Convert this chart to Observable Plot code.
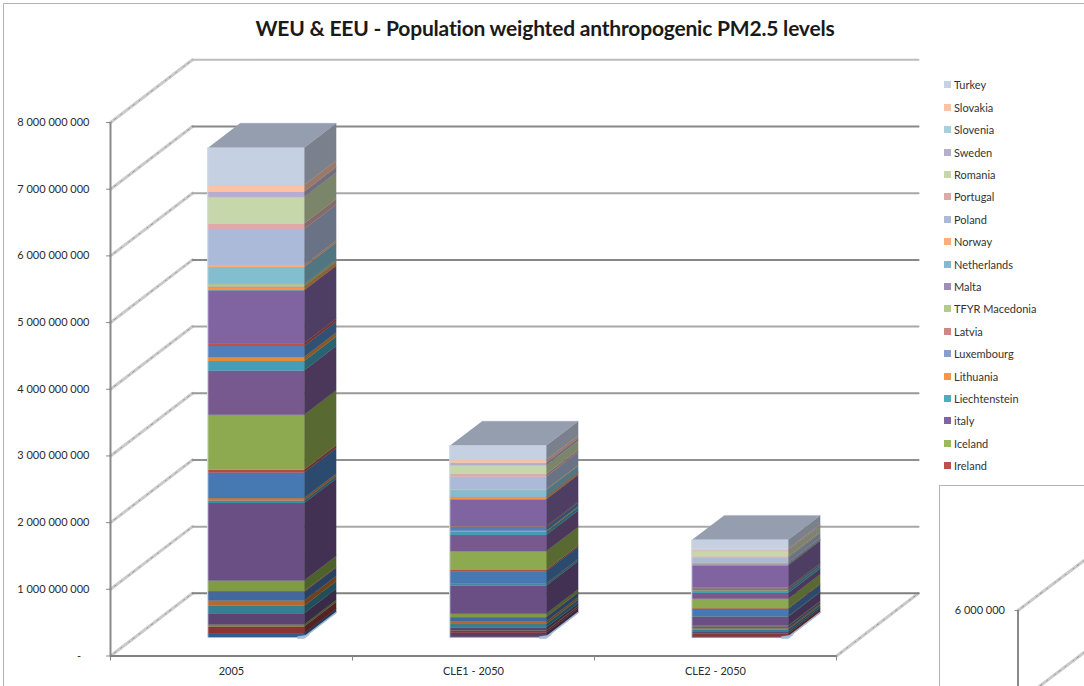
<!DOCTYPE html>
<html><head><meta charset="utf-8">
<script src="https://cdn.jsdelivr.net/npm/d3@7"></script>
<script src="https://cdn.jsdelivr.net/npm/@observablehq/plot@0.6"></script>
<style>
html,body{margin:0;padding:0;background:#fff;overflow:hidden}
#page{position:relative;width:1084px;height:686px;overflow:hidden;font-family:Lato,sans-serif;color:#2b2b2b}
#frame{position:absolute;left:3px;top:3px;right:0;bottom:0;border-left:1.5px solid #b4b4b4;border-top:1.5px solid #b4b4b4}
#title{position:absolute;left:0;top:14px;width:1090px;text-align:center;font-weight:700;font-size:21px;line-height:28px;color:#1a1a1a;letter-spacing:-.2px}
.lg{position:absolute;left:944px;font-size:11px;line-height:14px;white-space:nowrap;color:#333}
.lg i{position:absolute;left:0;top:2px;width:7px;height:7px}
.lg span{position:absolute;left:10px;top:-1px}
#inset{position:absolute;left:939px;top:485px;width:145px;height:201px;background:#fff;border-left:1.5px solid #b4b4b4;border-top:1.5px solid #b4b4b4;box-sizing:border-box;overflow:hidden}
</style></head><body><div id="page"><div id="frame"></div><div id="title"></div></div>
<script>
const chartTitle = "WEU & EEU - Population weighted anthropogenic PM2.5 levels";
const categories = ["2005", "CLE1 - 2050", "CLE2 - 2050"];
const yTicks = [0, 1e9, 2e9, 3e9, 4e9, 5e9, 6e9, 7e9, 8e9];
const gridColors = ["#808080","#a8a8a8","#909090","#989898","#a8a8a8","#888888","#a8a8a8","#888888","#bcbcbc"];

// legend, top to bottom, as far as it is visible
const legendNames = ["Turkey","Slovakia","Slovenia","Sweden","Romania","Portugal","Poland","Norway","Netherlands","Malta","TFYR Macedonia","Latvia","Luxembourg","Lithuania","Liechtenstein","italy","Iceland","Ireland"];
const legendColors = ["#c6d1e4","#fcc2a5","#a7d0de","#b7aecb","#c6d7ab","#dcaaa9","#abbad8","#fbae7f","#80bccd","#a08eb9","#b3cb8b","#d08784","#84a0cb","#f79646","#4bacc6","#8064a2","#9bbb59","#c0504d"];

// stack layers, bottom to top (lowest 20 have their legend entries hidden by the inset)
const layerColors = ["#2f5f8f","#5a3f62","#88353a","#75893e","#5c4472","#337f93","#b56a2c","#41699e","#a0504f","#7f9c45","#6a4f85","#3b8ca5","#c87a3a","#4678b2","#b5484a","#8eaa50","#77598f","#429fb7","#e48c3a","#5080bb","#c0504d","#9bbb59","#8064a2","#4bacc6","#f79646","#84a0cb","#d08784","#b3cb8b","#a08eb9","#83bdd0","#fbae7f","#abbad8","#dcaaa9","#c6d7ab","#b7aecb","#a7d0de","#fcc2a5","#c5d0e3"];
const bar2005 = [60,0,100,30,170,111,80,125,15,160,1160,40,35,385,40,825,665,140,60,165,45,2,790,2,50,2,2,40,2,250,30,540,84,396,80,4,95,560];
const barCLE1 = [8,60,30,8,38,54,36,64,4,50,420,30,5,180,20,280,245,50,15,55,10,2,405,2,30,2,2,4,2,95,10,195,35,130,40,2,40,215];
const barCLE2 = [6,0,45,3,24,36,20,30,3,10,130,10,2,105,10,144,85,40,6,25,8,2,335,2,7,2,2,3,2,25,3,70,20,80,8,2,20,135];
const millions = 1e6;

// pseudo-3D: depth 0 is the front of the floor, depth 1 the back wall
const depthX = 0.339, depthY = 0.94e9;
const barFront = 0.3, barBack = 0.69, barWidth = 0.397;
const P = (c, v, d) => ({x: c + d * depthX, y: v + d * depthY});
const shade = (c, k) => { const r = d3.rgb(c); return d3.rgb(r.r*k, r.g*k, r.b*k).formatHex(); };

const faces = [];
const addFace = (id, fill, pts) => pts.forEach(p => faces.push({id, fill, x: p.x, y: p.y}));
[bar2005, barCLE1, barCLE2].forEach((bar, b) => {
  const x0 = b + 0.5 - barWidth / 2, x1 = x0 + barWidth;
  let v = 0; const spans = bar.map((t, i) => { const s = {i, a: v, b: v + t * millions}; v = s.b; return s; });
  spans.forEach(s => addFace(`s${b}-${s.i}`, shade(layerColors[s.i], 0.62),
    [P(x1,s.a,barFront),P(x1,s.a,barBack),P(x1,s.b,barBack),P(x1,s.b,barFront)]));
  addFace(`t${b}`, "#959eae", [P(x0,v,barFront),P(x1,v,barFront),P(x1,v,barBack),P(x0,v,barBack)]);
  spans.forEach(s => addFace(`f${b}-${s.i}`, layerColors[s.i],
    [P(x0,s.a,barFront),P(x1,s.a,barFront),P(x1,s.b,barFront),P(x0,s.b,barFront)]));
  addFace(`l${b}`, "#cfd7e6", [P(x0-0.004,0,barFront),P(x0,0,barFront),P(x0,v,barFront),P(x0-0.004,v,barFront)]);
  addFace(`c${b}`, "#a9bedb", [P(x1-0.028,-22e6,barFront),P(x1,-22e6,barFront),P(x1+0.012,10e6,barFront+0.03),P(x1-0.028,10e6,barFront)]);
  addFace(`e${b}`, "#a9bedb", [P(x1,-8e6,barFront),P(x1,-8e6,barBack),P(x1,14e6,barBack),P(x1,14e6,barFront)]);
});

const backLines = yTicks.flatMap((v, i) => [{v, i, ...P(0,v,1)}, {v, i, ...P(3,v,1)}]);
const wallLines = yTicks.flatMap(v => [{v, ...P(0,v,0)}, {v, ...P(0,v,1)}]);
const floorSide = [P(3,0,0), P(3,0,1)];
const spaced = n => d3.format(",")(n).replace(/,/g, " ");
const grain = "1 4 2 6 1 9";

const chart = Plot.plot({
  width: 1084, height: 686, marginLeft: 110, marginRight: 248, marginTop: 122, marginBottom: 30.5,
  style: {position: "absolute", left: 0, top: 0, background: "transparent", overflow: "visible", fontFamily: "Lato,sans-serif", color: "#2b2b2b"},
  x: {domain: [0, 3]},
  y: {domain: [0, 8e9]},
  color: {type: "identity"},
  marks: [
    Plot.line(wallLines, {x: "x", y: "y", z: "v", stroke: "#cbcbcb", strokeWidth: 3}),
    Plot.line(wallLines, {x: "x", y: "y", z: "v", stroke: "#969696", strokeWidth: 1, strokeDasharray: grain}),
    Plot.line(floorSide, {x: "x", y: "y", stroke: "#cbcbcb", strokeWidth: 3}),
    Plot.line(floorSide, {x: "x", y: "y", stroke: "#969696", strokeWidth: 1, strokeDasharray: grain}),
    Plot.line(backLines, {x: "x", y: "y", z: "i", stroke: d => gridColors[d.i], strokeWidth: 2}),
    Plot.axisY({ticks: yTicks, tickFormat: v => v === 0 ? "-\u00a0\u00a0\u00a0" : spaced(v), tickSize: 4, tickPadding: 17, stroke: "#8a8a8a", fontSize: 11, label: null}),
    Plot.axisX({ticks: [0,1,2,3], tickSize: 5, tickFormat: () => "", stroke: "#8a8a8a", label: null}),
    Plot.axisX({ticks: [0.5,1.5,2.5], tickSize: 0, tickPadding: 11, tickFormat: x => categories[Math.floor(x)], fontSize: 11, label: null}),
    Plot.ruleX([0], {y1: 0, y2: 8e9, stroke: "#8a8a8a", strokeWidth: 2}),
    Plot.ruleY([0], {x1: 0, x2: 3, stroke: "#808080", strokeWidth: 2}),
    Plot.line(faces, {x: "x", y: "y", z: "id", fill: "fill", stroke: "fill", strokeWidth: 0.3})
  ]
});
const page = document.getElementById("page");
page.appendChild(chart);
document.getElementById("title").textContent = chartTitle;

legendNames.forEach((name, i) => {
  const row = document.createElement("div");
  row.className = "lg";
  row.style.top = (79.3 + i * 22.4) + "px";
  const sw = document.createElement("i");
  sw.style.background = legendColors[i];
  const tx = document.createElement("span");
  tx.textContent = name;
  row.append(sw, tx);
  page.appendChild(row);
});

// the second chart that overlaps the lower right corner
const insetTicks = [5e6, 6e6];
const insetDepth = 0.543e6;
const insetLines = insetTicks.flatMap(v => [{v, x: 0, y: v}, {v, x: 1, y: v + insetDepth}]);
const inset = document.createElement("div");
inset.id = "inset";
inset.appendChild(Plot.plot({
  width: 143.5, height: 199.5, marginLeft: 77.5, marginRight: 0, marginTop: 0, marginBottom: 0,
  style: {display: "block", background: "transparent", overflow: "hidden", fontFamily: "Lato,sans-serif", color: "#2b2b2b"},
  x: {domain: [0, 1], axis: null},
  y: {domain: [5e6, 6e6], range: [216, 124], axis: null},
  marks: [
    Plot.line(insetLines, {x: "x", y: "y", z: "v", stroke: "#cbcbcb", strokeWidth: 3}),
    Plot.line(insetLines, {x: "x", y: "y", z: "v", stroke: "#969696", strokeWidth: 1, strokeDasharray: grain}),
    Plot.axisY({ticks: [6e6], tickFormat: spaced, tickSize: 3, tickPadding: 10, stroke: "#8a8a8a", fontSize: 11, label: null}),
    Plot.ruleX([0], {y1: 5e6, y2: 6e6, stroke: "#8a8a8a", strokeWidth: 2})
  ]
}));
page.appendChild(inset);
</script></body></html>
